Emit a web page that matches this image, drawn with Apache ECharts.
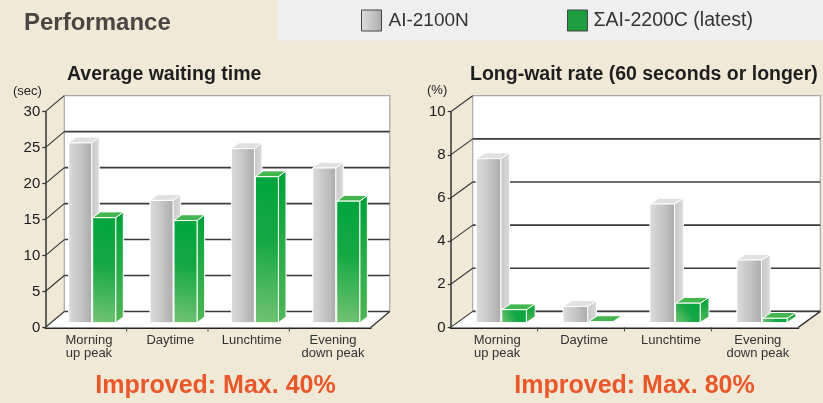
<!DOCTYPE html>
<html>
<head>
<meta charset="utf-8">
<script src="https://cdn.jsdelivr.net/npm/echarts@6/dist/echarts.min.js"></script>
<style>html,body{margin:0;padding:0;background:#f0e9d7;}#c{width:823px;height:403px;}</style>
</head>
<body>
<div id="c"></div>
<script>
// ---- data ----
const categories = ['Morning\nup peak', 'Daytime', 'Lunchtime', 'Evening\ndown peak'];
const seriesOld = 'AI-2100N';
const seriesNew = 'ΣAI-2200C (latest)';
const waitOld = [25, 17, 24.2, 21.5];
const waitNew = [14.6, 14.2, 20.3, 16.9];
const longOld = [7.6, 0.75, 5.5, 2.9];
const longNew = [0.6, 0.05, 0.9, 0.2];
const waitTicks = [0, 5, 10, 15, 20, 25, 30];
const longTicks = [0, 2, 4, 6, 8, 10];

const FONT = 'Liberation Sans';
const G = echarts.graphic;

function grayFront() { return new G.LinearGradient(0, 0, 1, 0, [{offset: 0, color: '#dcdcdc'}, {offset: 0.55, color: '#c4c4c4'}, {offset: 1, color: '#aaaaaa'}]); }
function graySide() { return new G.LinearGradient(0, 0, 1, 0, [{offset: 0, color: '#c6c6c6'}, {offset: 1, color: '#dcdcdc'}]); }
function greenFront() { return new G.LinearGradient(1, 0, 0, 1, [{offset: 0, color: '#00a53c'}, {offset: 0.45, color: '#16a844'}, {offset: 1, color: '#74c375'}]); }
function greenSide() { return new G.LinearGradient(0, 0, 0, 1, [{offset: 0, color: '#00a23a'}, {offset: 1, color: '#4fb656'}]); }

function frameSeries(gi, ticks, DX, DY) {
  return {
    type: 'custom', xAxisIndex: gi, yAxisIndex: gi, silent: true, z: 1,
    data: [[0, ticks[0]]],
    renderItem: function (params, api) {
      const cs = params.coordSys;
      const x0 = cs.x, x1 = cs.x + cs.width, yb = cs.y + cs.height, yt = cs.y;
      const ch = [];
      ch.push({type: 'polygon', shape: {points: [[x0 + DX, yt + DY], [x1 + DX, yt + DY], [x1 + DX, yb + DY], [x0 + DX, yb + DY]]},
        style: {fill: '#ffffff', stroke: '#a8a8a8', lineWidth: 1.2}});
      ch.push({type: 'polygon', shape: {points: [[x0, yb], [x1, yb], [x1 + DX, yb + DY], [x0 + DX, yb + DY]]},
        style: {fill: '#ffffff'}});
      ticks.forEach(function (v, k) {
        const y = api.coord([0, v])[1];
        if (k < ticks.length - 1) {
          ch.push({type: 'line', shape: {x1: x0 + DX, y1: y + DY, x2: x1 + DX, y2: y + DY}, style: {stroke: '#3a3a3a', lineWidth: 1.6}});
        }
        ch.push({type: 'line', shape: {x1: x0, y1: y, x2: x0 + DX, y2: y + DY}, style: {stroke: '#333', lineWidth: 1.1}});
      });
      ch.push({type: 'line', shape: {x1: x1, y1: yb, x2: x1 + DX, y2: yb + DY}, style: {stroke: '#333', lineWidth: 1.3}});
      const band = api.size([1, 0])[0];
      for (let i = 1; i < categories.length; i++) {
        const bx = x0 + band * i;
        ch.push({type: 'line', shape: {x1: bx, y1: yb, x2: bx, y2: yb + 4}, style: {stroke: '#444', lineWidth: 1}});
      }
      return {type: 'group', children: ch};
    }
  };
}

function barSeries(gi, name, values, DX, DY, isNew) {
  return {
    type: 'custom', name: name, xAxisIndex: gi, yAxisIndex: gi, z: isNew ? 4 : 3,
    itemStyle: {color: isNew ? '#1e9e40' : grayFront()},
    encode: {x: 0, y: 1},
    data: values.map(function (v, i) { return [i, v]; }),
    renderItem: function (params, api) {
      const i = api.value(0), v = api.value(1);
      const base = api.coord([i, 0]);
      const top = api.coord([i, v]);
      const band = api.size([1, 0])[0];
      const w = band * 0.283;
      const ox = DX * 0.3, oy = DY * 0.3;
      const bx = DX * 0.4, by = DY * 0.36;
      const L = isNew ? base[0] + ox + 1 : base[0] + ox - w;
      const R = L + w;
      const yB = base[1] + oy, yT = top[1] + oy;
      const st = {stroke: '#ffffff', lineWidth: 1, lineJoin: 'round'};
      return {type: 'group', children: [
        {type: 'polygon', shape: {points: [[R, yT], [R + bx, yT + by], [R + bx, yB + by], [R, yB]]},
          style: Object.assign({fill: isNew ? greenSide() : graySide()}, st)},
        {type: 'polygon', shape: {points: [[L, yT], [L + bx, yT + by], [R + bx, yT + by], [R, yT]]},
          style: Object.assign({fill: isNew ? '#43b650' : '#e0e0e0'}, st)},
        {type: 'rect', shape: {x: L, y: yT, width: w, height: Math.max(yB - yT, 0)},
          style: Object.assign({fill: isNew ? greenFront() : grayFront()}, st)}
      ]};
    }
  };
}

function yAxisFor(gi, ticks) {
  return {
    type: 'value', gridIndex: gi, min: ticks[0], max: ticks[ticks.length - 1], interval: ticks[1] - ticks[0],
    axisLine: {show: true, lineStyle: {color: '#333', width: 1.5}},
    axisTick: {show: true, length: 3, lineStyle: {color: '#333', width: 1.2}},
    splitLine: {show: false},
    axisLabel: {fontSize: 15, color: '#1a1a1a', margin: 5, fontFamily: FONT}
  };
}
function xAxisFor(gi) {
  return {
    type: 'category', gridIndex: gi, data: categories, boundaryGap: true,
    axisLine: {show: true, lineStyle: {color: '#222', width: 2}},
    axisTick: {show: false},
    axisLabel: {interval: 0, hideOverlap: false, fontSize: 13, color: '#333', margin: 6, lineHeight: 13.5, fontFamily: FONT, padding: [0, 0, 0, 6]}
  };
}

const chart = echarts.init(document.getElementById('c'), null, {renderer: 'canvas'});
chart.setOption({
  backgroundColor: '#f0e9d6',
  animation: false,
  grid: [
    {left: 45.3, right: 823 - 370.7, top: 111.7, bottom: 403 - 327.5},
    {left: 450.7, right: 823 - 798.3, top: 111.7, bottom: 403 - 327.4}
  ],
  xAxis: [xAxisFor(0), xAxisFor(1)],
  yAxis: [yAxisFor(0, waitTicks), yAxisFor(1, longTicks)],
  legend: [
    {left: 361, top: 9.5, padding: 0, itemWidth: 20, itemHeight: 21, icon: 'rect', selectedMode: false, data: [seriesOld],
      itemStyle: {borderColor: '#444', borderWidth: 1}, textStyle: {fontSize: 19, color: '#333', fontFamily: FONT, padding: [0, 0, 0, 2]}},
    {left: 567, top: 9.5, padding: 0, itemWidth: 20, itemHeight: 21, icon: 'rect', selectedMode: false, data: [seriesNew],
      itemStyle: {borderColor: '#444', borderWidth: 1}, textStyle: {fontSize: 19.5, color: '#333', fontFamily: FONT, padding: [0, 0, 0, 1]}}
  ],
  graphic: [
    {type: 'rect', left: 277, top: 0, shape: {width: 546, height: 40.5}, style: {fill: '#efefef'}, z: -1},
    {type: 'text', x: 24, y: 23, style: {text: 'Performance', fontSize: 24, fontWeight: 'bold', fill: '#4a4642', fontFamily: FONT, verticalAlign: 'middle'}},
    {type: 'text', x: 67, y: 75, style: {text: 'Average waiting time', fontSize: 19.5, fontWeight: 'bold', fill: '#1e1e1e', fontFamily: FONT, verticalAlign: 'middle'}},
    {type: 'text', x: 470, y: 75, style: {text: 'Long-wait rate (60 seconds or longer)', fontSize: 19.5, fontWeight: 'bold', fill: '#1e1e1e', fontFamily: FONT, verticalAlign: 'middle'}},
    {type: 'text', x: 13, y: 91, style: {text: '(sec)', fontSize: 13, fill: '#222', fontFamily: FONT, verticalAlign: 'middle'}},
    {type: 'text', x: 427, y: 90, style: {text: '(%)', fontSize: 13, fill: '#222', fontFamily: FONT, verticalAlign: 'middle'}},
    {type: 'text', x: 215.5, y: 386, style: {text: 'Improved: Max. 40%', fontSize: 25, fontWeight: 'bold', fill: '#e9572b', fontFamily: FONT, align: 'center', verticalAlign: 'middle'}},
    {type: 'text', x: 634.5, y: 386, style: {text: 'Improved: Max. 80%', fontSize: 25, fontWeight: 'bold', fill: '#e9572b', fontFamily: FONT, align: 'center', verticalAlign: 'middle'}}
  ],
  series: [
    frameSeries(0, waitTicks, 19, -16),
    frameSeries(1, longTicks, 22, -16),
    barSeries(0, seriesOld, waitOld, 19, -16, false),
    barSeries(0, seriesNew, waitNew, 19, -16, true),
    barSeries(1, seriesOld, longOld, 22, -16, false),
    barSeries(1, seriesNew, longNew, 22, -16, true)
  ]
});
</script>
</body>
</html>
